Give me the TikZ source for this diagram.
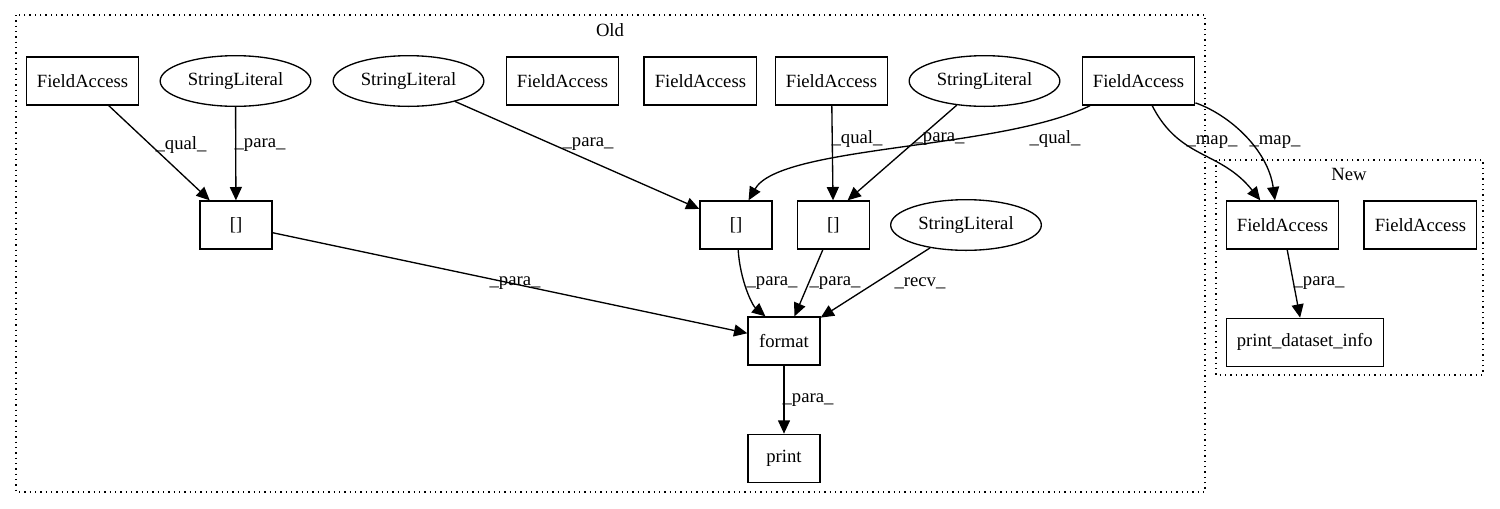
\documentclass[tikz,border=0pt]{standalone}
\usepackage{fontspec}
\setmainfont{Liberation Serif}
\usetikzlibrary{positioning,shapes,arrows.meta}
\tikzset{%
	block/.style    = {draw, rectangle, minimum height = 36pt,
		minimum width = 54pt, inner xsep = 8pt},
	literal/.style  = {draw, ellipse, minimum height = 38pt,
		minimum width = 113pt, inner sep = 0pt},
	cluster/.style  = {draw, dash pattern = on 1pt off 3pt}
}

\begin{document}
\begin{tikzpicture}[x=0.75pt, y=-0.75pt, line width=1pt,
          >={Triangle[length=10pt,width=9pt]},
          font=\fontsize{14pt}{16pt}\selectfont]
        \useasboundingbox (0,0) rectangle (1500,508);
        \draw[cluster] (16,15) rectangle (1205,492);
        \draw[cluster] (1216,160) rectangle (1483,375);
        \draw
        	node at (610,30) [name=old] {Old}
        	node at (1349,174) [name=new] {New}
        	
        	node at (82.5,81) [block, name=fa1] {FieldAccess}
        	node at (235.5,81) [literal, name=sl1] {StringLiteral}
        	node at (408.5,81) [literal, name=sl2] {StringLiteral}
        	node at (562.5,81) [block, name=fa2] {FieldAccess}
        	node [block, right =18pt of fa2] (fa3) {FieldAccess}
        	node at (831.5,81) [block, name=fa4] {FieldAccess}
        	node at (984.5,81) [literal, name=sl3] {StringLiteral}
        	node at (1138.5,81) [block, name=fa5] {FieldAccess}
        	
        	node at (236,225) [block, name=br1] {[]}
        	node at (736,225) [block, name=br2] {[]}
        	node [block, right =18pt of br2] (br3) {[]}
        	node at (966,225) [literal, name=sl4] {StringLiteral}
        	
        	node at (784,341) [block, name=fmt] {format}
        	node [block, below =51pt of fmt] (prt) {print}
        	
        	node at (1282.5,225) [block, name=fa6] {FieldAccess}
        	node [block, right =18pt of fa6] (fa7) {FieldAccess}
        	node [block, below right =51pt and 0pt of fa6.south west] (pdi) {print\_dataset\_info};
        	
        	\draw[->](fa1) -- (br1) node at (181,145) {\_qual\_};
        	\draw[->](sl1) -- (br1) node at (260,145) {\_para\_};
        	\draw[->](sl2) -- (br2) node at (588,144) {\_para\_};
        	\draw[->](fa5.207) .. controls (1000,150) and (780,145) .. (br2.63) node at (1055,139) {\_qual\_};
        	\draw[->](fa4) -- (br3) node at (857,139) {\_qual\_};
        	\draw[->](sl3) -- (br3.60) node at (939,139) {\_para\_};
        	
        	\draw[->](br1) -- (fmt) node at (515,283) {\_para\_};
        	\draw[->](br2.-85) .. controls (740,280) and (752,305) .. (fmt.127) node at (772,283) {\_para\_};
        	\draw[->](br3) -- (fmt) node at (835,283) {\_para\_};
        	\draw[->](sl4) -- (fmt) node at (920,283) {\_recv\_};
        	\draw[->](fmt) -- (prt) node at (808,400) {\_para\_};
        	
        	\draw[->](fa5.-61) .. controls (1180,160) and (1220,150) .. (fa6.132) node at (1212,142) {\_map\_};
        	\draw[->](fa5.-21) .. controls (1230,115) and (1268,150) .. (fa6.107) node at (1275,142) {\_map\_};
        	\draw[->](fa6) -- (pdi) node at (1319,283) {\_para\_};
    \end{tikzpicture}
\end{document}
